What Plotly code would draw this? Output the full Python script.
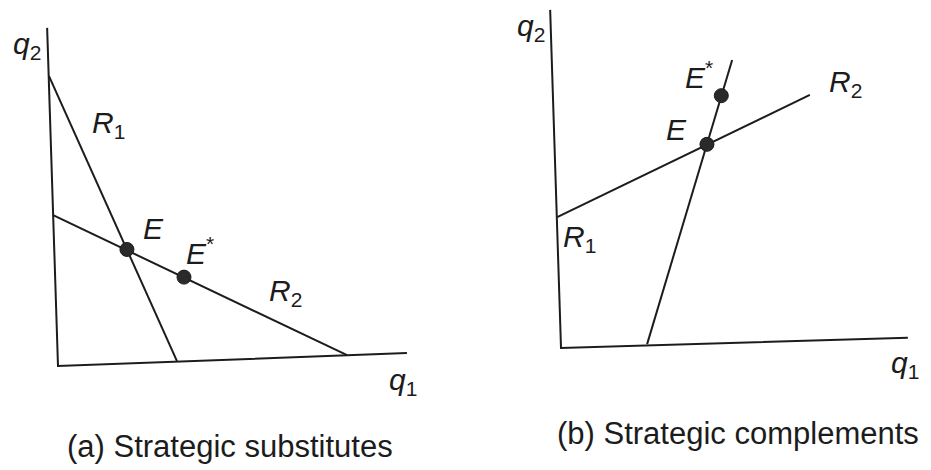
import plotly.graph_objects as go

# ---- Panel (a): strategic substitutes (diagram units) ----
a_axes_x = [-0.31, 0.0, 9.97]
a_axes_y = [9.66, 0.0, 0.37]
a_r1_x = [-0.26, 3.40]
a_r1_y = [8.29, 0.14]
a_r2_x = [-0.14, 8.26]
a_r2_y = [4.31, 0.31]
a_eq_x = [1.97, 3.60]
a_eq_y = [3.33, 2.54]

# ---- Panel (b): strategic complements ----
b_axes_x = [-0.31, 0.0, 9.91]
b_axes_y = [9.66, 0.0, 0.29]
b_r1_x = [2.46, 4.89]
b_r1_y = [0.11, 8.23]
b_r2_x = [-0.11, 7.11]
b_r2_y = [3.74, 7.23]
b_eq_x = [4.17, 4.58]
b_eq_y = [5.82, 7.21]

# labels: (text, x, y)
a_labels = [("<i>q</i><sub>2</sub>", -0.89, 9.17),
            ("<i>R</i><sub>1</sub>", 1.43, 6.91),
            ("<i>E</i>", 2.74, 3.94),
            ("<i>E</i><sup>*</sup>", 4.06, 3.30),
            ("<i>R</i><sub>2</sub>", 6.51, 2.09),
            ("<i>q</i><sub>1</sub>", 9.86, -0.43)]
b_labels = [("<i>q</i><sub>2</sub>", -0.86, 9.17),
            ("<i>E</i><sup>*</sup>", 3.94, 7.79),
            ("<i>R</i><sub>2</sub>", 8.14, 7.57),
            ("<i>E</i>", 3.31, 6.23),
            ("<i>R</i><sub>1</sub>", 0.54, 3.14),
            ("<i>q</i><sub>1</sub>", 9.83, -0.46)]
captions = [("(a) Strategic substitutes", 4.91, -2.31, "x", "y"),
            ("(b) Strategic complements", 5.06, -2.43, "x2", "y2")]

INK = "#1c1c1c"
LW = 2
fig = go.Figure()

def add_line(xs, ys, xa, ya):
    fig.add_trace(go.Scatter(x=xs, y=ys, mode="lines", xaxis=xa, yaxis=ya,
                             line=dict(color=INK, width=LW), hoverinfo="skip",
                             showlegend=False))

for xs, ys in [(a_axes_x, a_axes_y), (a_r1_x, a_r1_y), (a_r2_x, a_r2_y)]:
    add_line(xs, ys, "x", "y")
for xs, ys in [(b_axes_x, b_axes_y), (b_r1_x, b_r1_y), (b_r2_x, b_r2_y)]:
    add_line(xs, ys, "x2", "y2")

fig.add_trace(go.Scatter(x=a_eq_x, y=a_eq_y, mode="markers", xaxis="x", yaxis="y",
                         marker=dict(size=14, color="#2a2a2a", line=dict(color=INK, width=1)),
                         showlegend=False, hoverinfo="skip"))
fig.add_trace(go.Scatter(x=b_eq_x, y=b_eq_y, mode="markers", xaxis="x2", yaxis="y2",
                         marker=dict(size=14, color="#2a2a2a", line=dict(color=INK, width=1)),
                         showlegend=False, hoverinfo="skip"))

FONT = "Liberation Sans, Arial, sans-serif"
ann = []
for t, x, y in a_labels:
    ann.append(dict(text=t, x=x, y=y, xref="x", yref="y", showarrow=False,
                    font=dict(family=FONT, size=30, color=INK)))
for t, x, y in b_labels:
    ann.append(dict(text=t, x=x, y=y, xref="x2", yref="y2", showarrow=False,
                    font=dict(family=FONT, size=30, color=INK)))
for t, x, y, xr, yr in captions:
    ann.append(dict(text=t, x=x, y=y, xref=xr, yref=yr, showarrow=False,
                    font=dict(family=FONT, size=31, color=INK)))

hidden = dict(visible=False, showgrid=False, zeroline=False)
fig.update_layout(
    width=931, height=470,
    margin=dict(l=0, r=0, t=0, b=0),
    paper_bgcolor="white", plot_bgcolor="white",
    xaxis=dict(domain=[0, 465 / 931], range=[-1.657, 11.629], **hidden),
    yaxis=dict(domain=[0, 1], range=[-2.971, 10.457], **hidden),
    xaxis2=dict(domain=[465 / 931, 1], range=[-2.743, 10.571], **hidden),
    yaxis2=dict(domain=[0, 1], range=[-3.486, 9.943], anchor="x2", **hidden),
    annotations=ann,
)
fig.write_html("out.html",
               config={"displayModeBar": False, "staticPlot": True},
               post_script="document.body.style.margin='0';document.body.style.overflow='hidden';")
